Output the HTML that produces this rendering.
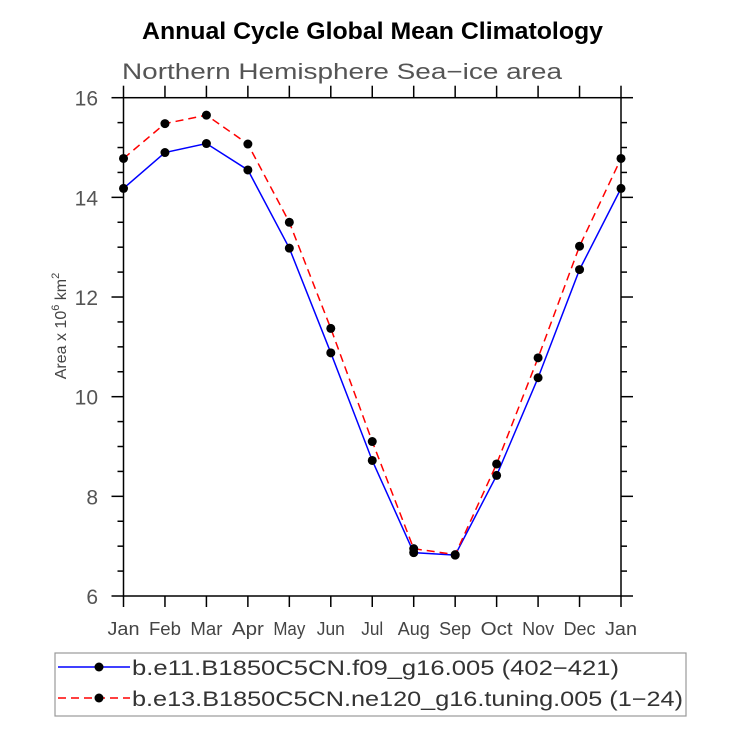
<!DOCTYPE html>
<html><head><meta charset="utf-8"><style>
body{margin:0;background:#fff;}
svg text{font-family:"Liberation Sans",sans-serif;}
</style></head><body>
<svg id="chart" width="733" height="725" xmlns="http://www.w3.org/2000/svg">
<text x="142" y="39" font-size="24" font-weight="bold" fill="#000" textLength="461" lengthAdjust="spacingAndGlyphs">Annual Cycle Global Mean Climatology</text>
<text x="122" y="79" font-size="22" fill="#555" textLength="440" lengthAdjust="spacingAndGlyphs">Northern Hemisphere Sea−ice area</text>
<text transform="translate(66,326) rotate(-90)" text-anchor="middle" font-size="16" fill="#444">Area x 10<tspan font-size="11" dy="-7">6</tspan><tspan dy="7"> km</tspan><tspan font-size="11" dy="-7">2</tspan></text>
<g id="axes"></g>
<g id="series"></g>
<g>
<rect x="55" y="653" width="631" height="63" fill="none" stroke="#999" stroke-width="1.2"/>
<g>
<line x1="58" y1="667" x2="130" y2="667" stroke="#0000ff" stroke-width="1.5"/>
<circle cx="99" cy="667" r="4.5" fill="#000"/>
<text x="132" y="675" font-size="21" fill="#333" textLength="487" lengthAdjust="spacingAndGlyphs">b.e11.B1850C5CN.f09_g16.005 (402−421)</text>
</g>
<g>
<line x1="58" y1="698" x2="130" y2="698" stroke="#ff0000" stroke-width="1.5" stroke-dasharray="8,5"/>
<circle cx="99" cy="698" r="4.5" fill="#000"/>
<text x="132" y="706" font-size="21" fill="#333" textLength="551" lengthAdjust="spacingAndGlyphs">b.e13.B1850C5CN.ne120_g16.tuning.005 (1−24)</text>
</g>
</g>
</svg>
<script>
const months = ["Jan","Feb","Mar","Apr","May","Jun","Jul","Aug","Sep","Oct","Nov","Dec","Jan"];
const blueValues = [14.18,14.9,15.08,14.55,12.98,10.88,8.72,6.87,6.82,8.42,10.38,12.55,14.18];
const redValues = [14.78,15.48,15.65,15.07,13.5,11.37,9.1,6.95,6.83,8.65,10.78,13.02,14.78];
const yTicks = [6,8,10,12,14,16];
const NS="http://www.w3.org/2000/svg";
const L=123.5,R=621,T=97.7,B=596,yMin=6,yMax=16;
const x=i=>L+(R-L)*i/(months.length-1);
const y=v=>B-(B-T)*(v-yMin)/(yMax-yMin);
function mk(tag,attrs,parent){const e=document.createElementNS(NS,tag);for(const k in attrs)e.setAttribute(k,attrs[k]);parent.appendChild(e);return e;}
const ax=document.getElementById('axes');
const frame=mk('rect',{x:L,y:T,width:R-L,height:B-T,fill:'none',stroke:'#000','stroke-width':1.5},ax);


months.forEach((m,i)=>{
  mk('line',{x1:x(i),y1:B,x2:x(i),y2:B+11,stroke:'#000','stroke-width':1.5},ax);
  mk('line',{x1:x(i),y1:T,x2:x(i),y2:T-12,stroke:'#000','stroke-width':1.5},ax);
  const w=m==="Jul"?22:(m==="Jun"?28:32);
  const t=mk('text',{x:x(i)-w/2,y:B+39,'font-size':18,fill:'#444',textLength:w,lengthAdjust:'spacingAndGlyphs'},ax);
  
  
  t.textContent=m;
});
for(let v=yMin;v<=yMax+0.001;v+=0.5){
  const major=Math.abs(v/2-Math.round(v/2))<1e-6;
  const len=major?12:6;
  mk('line',{x1:L-len,y1:y(v),x2:L,y2:y(v),stroke:'#000','stroke-width':1.5},ax);
  mk('line',{x1:R,y1:y(v),x2:R+len,y2:y(v),stroke:'#000','stroke-width':1.5},ax);
}
yTicks.forEach(v=>{
  const t=mk('text',{x:98,y:y(v)+8,'text-anchor':'end','font-size':21,fill:'#555'},ax);
  
  
  t.textContent=v;
});
const sg=document.getElementById('series');
function series(vals,color,dash,name){
  const p=mk('polyline',{points:vals.map((v,i)=>x(i)+','+y(v)).join(' '),fill:'none',stroke:color,'stroke-width':1.5,'stroke-dasharray':dash},sg);
  
  
  vals.forEach((v,i)=>{
    const c=mk('circle',{cx:x(i),cy:y(v),r:4.5,fill:'#000'},sg);
    
    
  });
}
series(blueValues,'#0000ff','none','blue-series');
series(redValues,'#ff0000','8,5','red-series');
</script>
</body></html>
